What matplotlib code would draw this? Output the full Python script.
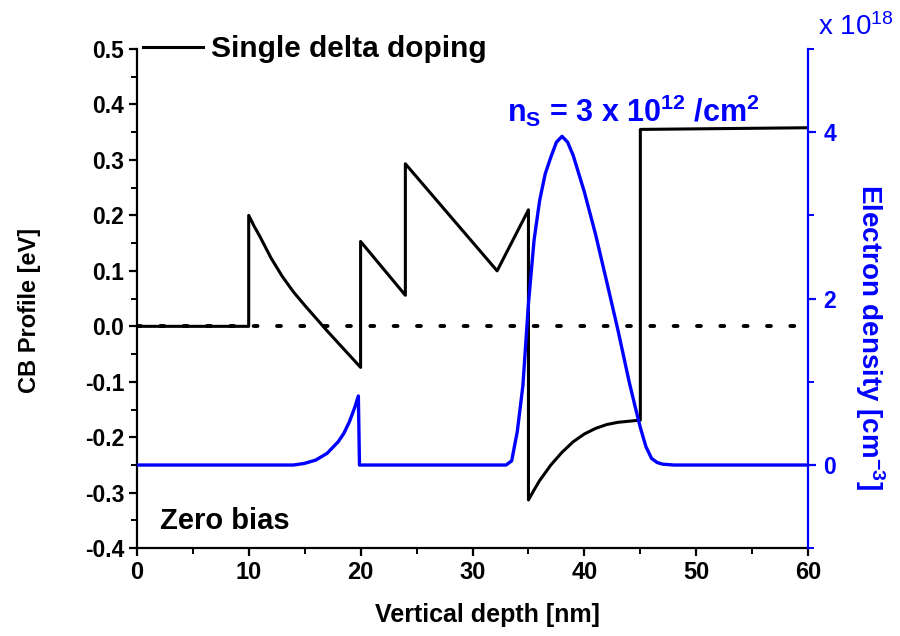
import numpy as np
import matplotlib
matplotlib.use("Agg")
import matplotlib.pyplot as plt
from matplotlib.ticker import MultipleLocator

plt.rcParams['font.family'] = ['Liberation Sans', 'DejaVu Sans']
plt.rcParams['mathtext.fontset'] = 'custom'
plt.rcParams['mathtext.rm'] = 'Liberation Sans:bold'
plt.rcParams['mathtext.it'] = 'Liberation Sans:bold'
plt.rcParams['mathtext.bf'] = 'Liberation Sans:bold'
plt.rcParams['mathtext.sf'] = 'Liberation Sans'

# Conduction band profile (eV) vs depth (nm)
cb_x = [0, 10, 10, 10.5, 11, 12, 13, 14, 15, 16, 17, 18, 19, 20, 20, 24, 24,
        32.2, 35, 35, 35.5, 36, 37, 38, 39, 40, 41, 42, 43, 44, 45, 45, 60]
cb_y = [0, 0, 0.2, 0.18, 0.162, 0.123, 0.09, 0.062, 0.038, 0.015, -0.008, -0.03,
        -0.052, -0.074, 0.153, 0.056, 0.293, 0.1, 0.21, -0.313, -0.295, -0.278,
        -0.25, -0.227, -0.208, -0.194, -0.184, -0.177, -0.173, -0.171, -0.169,
        0.355, 0.358]

# Electron density (x 1e18 cm^-3) vs depth (nm)
ne_x = [0, 14, 15, 16, 17, 18, 18.5, 19, 19.5, 19.8, 19.9, 33, 33.5, 34, 34.5,
        35, 35.5, 36, 36.5, 37, 37.5, 38, 38.5, 39, 40, 41, 42, 43, 44, 44.5,
        45, 45.5, 46, 46.5, 47, 48, 60]
ne_y = [0, 0, 0.02, 0.06, 0.14, 0.28, 0.38, 0.52, 0.7, 0.83, 0, 0, 0.05, 0.4,
        0.95, 1.94, 2.7, 3.18, 3.5, 3.7, 3.88, 3.95, 3.88, 3.72, 3.28, 2.77,
        2.2, 1.62, 1.0, 0.72, 0.45, 0.22, 0.08, 0.03, 0.01, 0, 0]

blue = '#0000ff'

fig = plt.figure(figsize=(9, 6.36), dpi=100)
ax = fig.add_axes([0.152, 0.138, 0.746, 0.785])
ax2 = ax.twinx()

ax.plot([0, 60], [0, 0], color='black', lw=2.8, linestyle=(0, (1, 5)),
        dash_capstyle='round')
ax.plot(cb_x, cb_y, color='black', lw=2.2, label='Single delta doping')
ax2.plot(ne_x, ne_y, color=blue, lw=2.4)

ax.set_xlim(0, 60)
ax.set_ylim(-0.4, 0.5)
ax2.set_ylim(-1, 5)

ax.xaxis.set_major_locator(MultipleLocator(10))
ax.xaxis.set_minor_locator(MultipleLocator(5))
ax.yaxis.set_major_locator(MultipleLocator(0.1))
ax.yaxis.set_minor_locator(MultipleLocator(0.05))
ax2.yaxis.set_major_locator(MultipleLocator(2))
ax2.yaxis.set_minor_locator(MultipleLocator(1))

for a in (ax, ax2):
    a.spines['top'].set_visible(False)
ax.spines['right'].set_visible(False)
ax2.spines['left'].set_visible(False)
ax2.spines['bottom'].set_visible(False)
ax2.spines['right'].set_color(blue)
for s in ('left', 'bottom'):
    ax.spines[s].set_linewidth(1.6)
ax2.spines['right'].set_linewidth(1.6)

ax.tick_params(which='major', direction='out', length=6, width=1.6, labelsize=16.5,
               pad=3)
ax.tick_params(which='minor', direction='out', length=4, width=1.4)
ax2.tick_params(which='major', direction='out', length=6, width=1.6, labelsize=16.5,
                color=blue, labelcolor=blue, pad=5)
ax2.tick_params(which='minor', direction='out', length=4, width=1.4, color=blue)

ax.set_yticklabels([f'{v:.1f}' for v in ax.get_yticks()])
for lab in ax.get_yticklabels() + ax2.get_yticklabels():
    lab.set_fontweight('bold')
for lab in ax.get_xticklabels():
    lab.set_fontweight('bold')
    lab.set_fontsize(17)

ax.set_xlabel('Vertical depth [nm]', fontsize=18, fontweight='bold', va='center')
ax.xaxis.set_label_coords(0.522, -0.134)
ax.set_ylabel('CB Profile [eV]', fontsize=17, fontweight='bold', va='center')
ax.yaxis.set_label_coords(-0.16, 0.477)
ax2.set_ylabel(r'Electron density [cm$^{-3}$]', fontsize=20, fontweight='bold',
               color=blue, rotation=-90, va='center')
ax2.yaxis.set_label_coords(1.092, 0.423)

leg = ax.legend(loc='center left', bbox_to_anchor=(0.009, 1.0), frameon=False,
                handlelength=2.0, handletextpad=0.27, borderaxespad=0,
                borderpad=0, prop={'size': 21.5, 'weight': 'bold'})

ax.text(2.06, -0.366, 'Zero bias', fontsize=21, fontweight='bold', va='baseline')
ax.text(33.1, 0.368, r'n$_{S}$ = 3 x 10$^{12}$ /cm$^{2}$', fontsize=22,
        fontweight='bold', color=blue, va='baseline')
fig.text(0.909, 0.945, r'x 10$^{\mathsf{18}}$', fontsize=20, color=blue,
         va='baseline')

fig.savefig('out.png', dpi=100)
